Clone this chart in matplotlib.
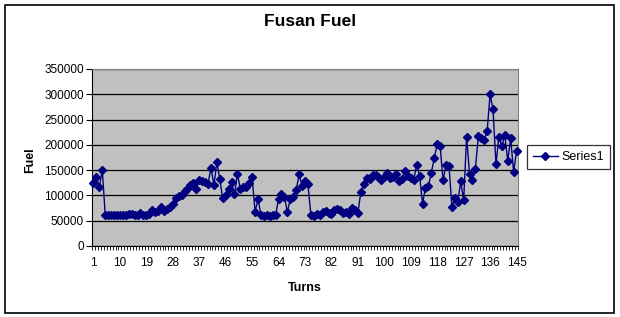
import matplotlib
matplotlib.use("Agg")
import matplotlib.pyplot as plt
from matplotlib.patches import Rectangle
from matplotlib.ticker import FixedLocator

plt.rcParams['font.family'] = ['Liberation Sans', 'DejaVu Sans']

# fuel per turn
turns = list(range(1, 146))
fuel = [
    125000, 136000, 117000, 150000, 62000, 61000, 61000, 61000, 61000, 61000,
    61000, 62000, 64000, 63000, 61000, 61000, 65000, 61000, 62000, 63000,
    72000, 67000, 69000, 77000, 70000, 74000, 78000, 83000, 95000, 98000,
    100000, 108000, 113000, 120000, 124000, 113000, 131000, 128000, 126000, 123000,
    155000, 120000, 166000, 132000, 94000, 100000, 113000, 126000, 102000, 142000,
    113000, 116000, 117000, 125000, 136000, 68000, 92000, 62000, 60000, 61000,
    60000, 61000, 61000, 93000, 103000, 97000, 68000, 92000, 97000, 110000,
    142000, 118000, 128000, 122000, 62000, 60000, 63000, 62000, 67000, 70000,
    66000, 64000, 72000, 73000, 71000, 66000, 68000, 63000, 75000, 72000,
    65000, 107000, 123000, 135000, 133000, 140000, 140000, 136000, 131000, 136000,
    144000, 135000, 137000, 143000, 128000, 133000, 149000, 139000, 135000, 131000,
    160000, 139000, 84000, 115000, 118000, 145000, 174000, 202000, 197000, 130000,
    161000, 159000, 78000, 94000, 87000, 128000, 90000, 216000, 143000, 130000,
    153000, 218000, 213000, 210000, 228000, 300000, 270000, 162000, 216000, 198000,
    220000, 168000, 213000, 147000, 188000,
]
tick_turns = list(range(1, 146, 9))
y_ticks = list(range(0, 350001, 50000))

fig = plt.figure(figsize=(6.2, 3.17), dpi=100)
fig.patches.append(Rectangle((5 / 620, 4 / 317), 609 / 620, 308 / 317,
                             transform=fig.transFigure, fill=False,
                             edgecolor='black', linewidth=1.2))

ax = fig.add_axes([92 / 620, 71 / 317, 426 / 620, 177 / 317])
ax.set_facecolor('#C0C0C0')
ax.plot(turns, fuel, color='#000080', linewidth=1, marker='D',
        markersize=3.8, label='Series1', clip_on=False, zorder=3)

ax.set_xlim(0.5, 145.5)
ax.set_ylim(0, 350000)
ax.set_yticks(y_ticks)
ax.set_yticklabels([str(v) for v in y_ticks])
ax.set_xticks(tick_turns)
ax.set_xticklabels([str(t) for t in tick_turns])
ax.xaxis.set_minor_locator(FixedLocator([t + 0.5 for t in range(0, 146)]))
ax.tick_params(axis='x', which='major', length=0, pad=8, labelsize=8.5)
ax.tick_params(axis='x', which='minor', length=3, width=0.6, direction='out')
ax.tick_params(axis='y', length=4, width=0.8, labelsize=8.5, pad=2)

ax.grid(axis='y', color='black', linewidth=0.9)
ax.set_axisbelow(True)
for side in ['top', 'right']:
    ax.spines[side].set_color('#808080')
for side in ['left', 'bottom']:
    ax.spines[side].set_color('black')

fig.text(0.5, 1 - 22 / 317, 'Fusan Fuel', ha='center', va='center',
         fontsize=12.5, fontweight='bold')
fig.text(305 / 620, 1 - 288 / 317, 'Turns', ha='center', va='center',
         fontsize=9, fontweight='bold')
fig.text(30 / 620, 1 - 160 / 317, 'Fuel', ha='center', va='center',
         rotation=90, fontsize=9, fontweight='bold')

leg = ax.legend(loc='center left', bbox_to_anchor=(527 / 620, 1 - 157 / 317),
                bbox_transform=fig.transFigure, fontsize=9, frameon=True,
                fancybox=False, handlelength=2.0, borderpad=0.45,
                handletextpad=0.3, borderaxespad=0)
leg.get_frame().set_edgecolor('black')
leg.get_frame().set_linewidth(0.9)

fig.savefig('out.png', dpi=100)
